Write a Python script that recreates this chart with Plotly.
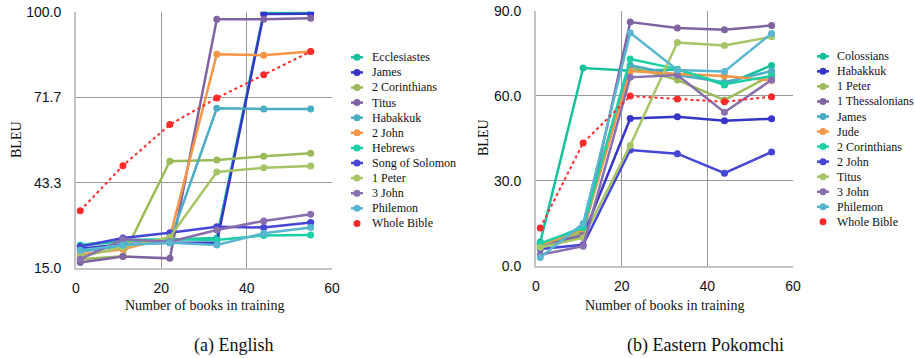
import plotly.graph_objects as go

W, H = 915, 358

books = [1, 11, 22, 33, 44, 55]

# (a) English
en_names = ["Ecclesiastes", "James", "2 Corinthians", "Titus", "Habakkuk", "2 John",
            "Hebrews", "Song of Solomon", "1 Peter", "3 John", "Philemon", "Whole Bible"]
en_ecclesiastes = [22.5, 24.0, 24.5, 25.0, 99.7, 99.7]
en_james = [21.5, 23.0, 23.5, 23.5, 99.2, 99.3]
en_2corinthians = [18.0, 19.0, 50.5, 50.9, 52.1, 53.1]
en_titus = [16.9, 18.9, 18.3, 97.5, 97.5, 97.8]
en_habakkuk = [20.5, 22.5, 24.0, 68.0, 67.8, 67.8]
en_2john = [19.6, 21.3, 25.3, 85.9, 85.6, 86.8]
en_hebrews = [22.7, 24.4, 24.6, 24.4, 25.9, 26.0]
en_songofsolomon = [22.2, 25.0, 26.8, 28.8, 28.5, 30.2]
en_1peter = [18.9, 22.0, 25.3, 46.9, 48.3, 48.9]
en_3john = [18.0, 24.6, 23.8, 27.7, 30.7, 32.9]
en_philemon = [21.0, 22.7, 23.5, 22.7, 26.6, 28.5]
en_whole = [34.1, 49.0, 62.6, 71.4, 79.1, 86.8]
en_series = [en_ecclesiastes, en_james, en_2corinthians, en_titus, en_habakkuk, en_2john,
             en_hebrews, en_songofsolomon, en_1peter, en_3john, en_philemon, en_whole]
en_yticks = [15.0, 43.3, 71.7, 100.0]

# (b) Eastern Pokomchi
po_names = ["Colossians", "Habakkuk", "1 Peter", "1 Thessalonians", "James", "Jude",
            "2 Corinthians", "2 John", "Titus", "3 John", "Philemon", "Whole Bible"]
po_colossians = [8.5, 69.8, 68.8, 69.3, 63.8, 70.7]
po_habakkuk = [8.0, 10.5, 52.0, 52.6, 51.2, 51.9]
po_1peter = [7.5, 12.0, 70.3, 65.6, 58.5, 67.3]
po_1thess = [6.5, 11.0, 86.0, 83.9, 83.3, 84.8]
po_james = [7.0, 14.0, 70.8, 67.3, 64.8, 68.7]
po_jude = [7.5, 13.0, 68.7, 67.7, 67.0, 65.4]
po_2corinthians = [8.0, 13.5, 73.0, 69.4, 64.1, 67.0]
po_2john = [6.0, 7.5, 40.9, 39.6, 32.7, 40.2]
po_titus = [6.5, 10.0, 42.5, 78.8, 77.7, 80.8]
po_3john = [4.0, 7.0, 66.5, 67.3, 54.2, 65.6]
po_philemon = [3.0, 15.0, 82.2, 69.1, 68.6, 82.0]
po_whole = [13.4, 43.4, 59.9, 58.9, 57.9, 59.7]
po_series = [po_colossians, po_habakkuk, po_1peter, po_1thess, po_james, po_jude,
             po_2corinthians, po_2john, po_titus, po_3john, po_philemon, po_whole]
po_yticks = [0.0, 30.0, 60.0, 90.0]

xticks = [0, 20, 40, 60]

colors = ["#17c09c", "#3535c8", "#9bbb59", "#8064a2", "#4bacc6", "#f79646",
          "#1cd0a6", "#4545d6", "#a6c566", "#8a6fae", "#58b6d0", "#ff2a2a"]

fig = go.Figure()

def add_series(names, series, xa, ya):
    for i, (n, ys) in enumerate(zip(names, series)):
        whole = (n == "Whole Bible")
        fig.add_trace(go.Scatter(
            x=books, y=ys, name=n, mode="lines+markers", xaxis=xa, yaxis=ya,
            showlegend=False,
            line=dict(color=colors[i], width=2 if whole else 2.5, dash="dot" if whole else "solid"),
            marker=dict(color=colors[i], size=7),
        ))

add_series(en_names, en_series, "x", "y")
add_series(po_names, po_series, "x2", "y2")

def px_x(p):
    return p / W

def px_y(p):
    return 1 - p / H

tick_font = dict(family="Liberation Sans", size=14, color="#111")
serif = "Liberation Serif"

axis_common = dict(showgrid=True, gridcolor="#9a9a9a", gridwidth=1, zeroline=False,
                   showline=True, linecolor="#c4c4c4", linewidth=2, mirror=False,
                   tickfont=tick_font, ticks="", fixedrange=True, automargin=False)

fig.update_layout(
    width=W, height=H, margin=dict(l=0, r=0, t=0, b=0, autoexpand=False),
    paper_bgcolor="white", plot_bgcolor="white", showlegend=False,
    xaxis=dict(domain=[px_x(76), px_x(332)], range=[0, 60], tickvals=xticks,
               anchor="y", ticklabelstandoff=6, **axis_common),
    yaxis=dict(domain=[px_y(268.3), px_y(11.7)], range=[15, 100], tickvals=en_yticks,
               tickformat=".1f", anchor="x", ticklabelstandoff=10, **axis_common),
    xaxis2=dict(domain=[px_x(536), px_x(793)], range=[0, 60], tickvals=xticks,
                anchor="y2", ticklabelstandoff=6, **axis_common),
    yaxis2=dict(domain=[px_y(266), px_y(10.7)], range=[0, 90], tickvals=po_yticks,
                tickformat=".1f", anchor="x2", ticklabelstandoff=10, **axis_common),
)

annotations = []
shapes = []

def label(cx, cy, text, size, angle=0):
    annotations.append(dict(x=px_x(cx), y=px_y(cy), xref="paper", yref="paper",
                            text=text, showarrow=False, textangle=angle,
                            xanchor="center", yanchor="middle",
                            font=dict(family=serif, size=size, color="#111")))

# axis titles
label(204, 305, "Number of books in training", 14)
label(664, 305, "Number of books in training", 14)
label(17, 140, "BLEU", 14, -90)
label(483, 138, "BLEU", 14, -90)

# captions
label(233, 345, "(a) English", 18)
label(705, 345, "(b) Eastern Pokomchi", 18)

# custom legends
def add_legend(names, mx, tx, y0, dy):
    for i, n in enumerate(names):
        cy = y0 + i * dy
        c = colors[i]
        if n != "Whole Bible":
            shapes.append(dict(type="line", xref="paper", yref="paper",
                               x0=px_x(mx - 6), x1=px_x(mx + 6), y0=px_y(cy), y1=px_y(cy),
                               line=dict(color=c, width=2.5)))
        r = 3.5
        shapes.append(dict(type="circle", xref="paper", yref="paper",
                           x0=px_x(mx - r), x1=px_x(mx + r), y0=px_y(cy - r), y1=px_y(cy + r),
                           fillcolor=c, line=dict(color=c, width=0)))
        annotations.append(dict(x=px_x(tx), y=px_y(cy), xref="paper", yref="paper",
                                text=n, showarrow=False, xanchor="left", yanchor="middle",
                                font=dict(family=serif, size=12, color="#111")))

add_legend(en_names, 357, 370, 57.3, 15.1)
add_legend(po_names, 823, 835, 56.3, 15.05)

fig.update_layout(annotations=annotations, shapes=shapes)

fig.write_html("out.html", config={"displayModeBar": False},
               post_script="document.body.style.margin='0';document.body.style.overflow='hidden';")
